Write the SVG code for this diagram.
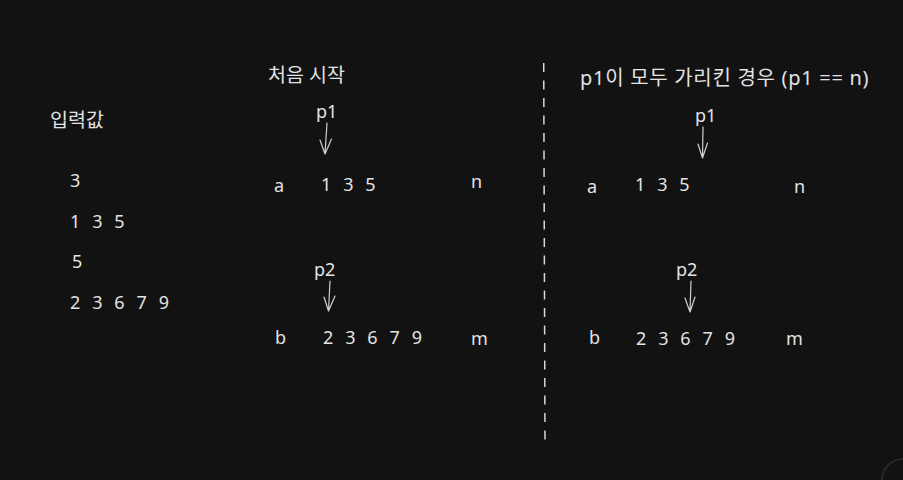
<svg xmlns="http://www.w3.org/2000/svg" width="903" height="480" viewBox="0 0 903 480">
<style>
text{font-family:"Noto Sans","Noto Sans CJK KR",sans-serif;font-size:18px;fill:#e3e3e3}
.t{font-size:19.5px}
.n{letter-spacing:3.6px}
.c{stroke:#d0d0d0;stroke-width:1.2;fill:none;stroke-linecap:round;stroke-linejoin:round}
</style>
<rect width="903" height="480" fill="#121212"/>
<g id="input">
<text x="50" y="127" class="t">입력값</text>
<text x="70" y="187" class="n">3</text>
<text x="70" y="228" class="n">1 3 5</text>
<text x="72" y="268" class="n">5</text>
<text x="70" y="309" class="n">2 3 6 7 9</text>
</g>
<g id="start">
<text x="268" y="82" class="t">처음 시작</text>
<text x="316" y="118">p1</text>
<text x="274" y="192">a</text>
<text x="321" y="191" class="n">1 3 5</text>
<text x="471" y="188">n</text>
<text x="314" y="276">p2</text>
<text x="275" y="344">b</text>
<text x="323" y="344" class="n">2 3 6 7 9</text>
<text x="471" y="345">m</text>
</g>
<g id="end">
<text x="580" y="85" style="font-size:20px;letter-spacing:0.7px">p1이 모두 가리킨 경우 (p1 == n)</text>
<text x="695" y="122">p1</text>
<text x="587" y="193">a</text>
<text x="635" y="191" class="n">1 3 5</text>
<text x="794" y="193">n</text>
<text x="676" y="276">p2</text>
<text x="589" y="344">b</text>
<text x="636" y="345" class="n">2 3 6 7 9</text>
<text x="786" y="345">m</text>
</g>
<g id="connectors">
<path class="c" d="M327 123 L325 154 M320 140 L325 154 L331.5 139"/>
<path class="c" d="M330 281 L328.5 311 M324 297 L328.5 311 L335 296"/>
<path class="c" d="M703 127 L702.5 158 M698 144 L702.5 158 L707.5 143"/>
<path class="c" d="M691 281 L690 312 M685 298 L690 312 L695 297"/>
<path d="M543.7 63 L545 442" stroke="#d8d8d8" stroke-width="1.5" stroke-dasharray="9 8.5" fill="none"/>
</g>
<circle cx="903" cy="480" r="21" fill="none" stroke="#2c2c2c" stroke-width="1.5"/>
</svg>
